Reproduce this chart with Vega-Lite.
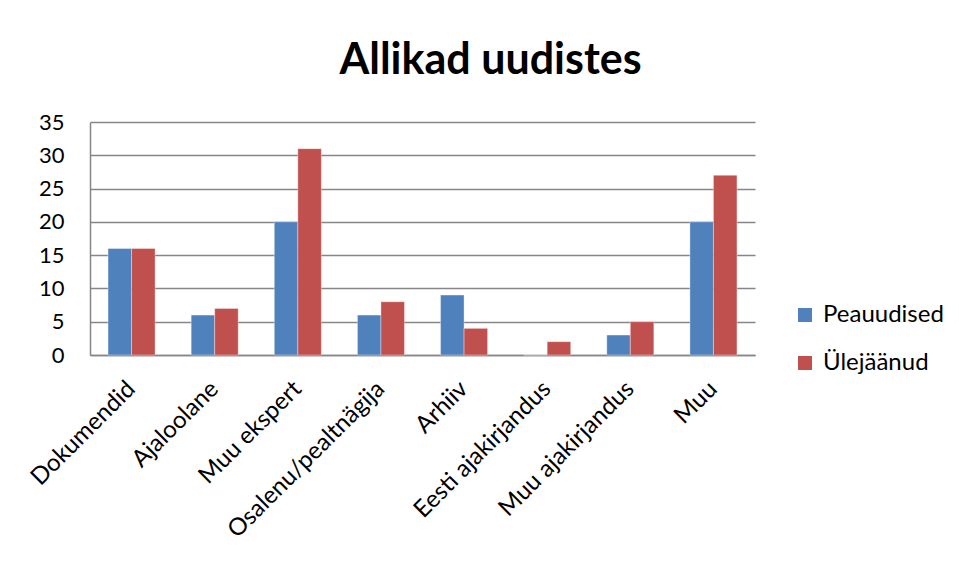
{
  "$schema": "https://vega.github.io/schema/vega-lite/v6.json",
  "width": 665,
  "height": 233,
  "autosize": "none",
  "padding": {"left": 90, "top": 122, "right": 204, "bottom": 227},
  "background": "white",
  "title": {
    "text": "Allikad uudistes",
    "font": "Lato",
    "fontSize": 43,
    "fontWeight": "bold",
    "color": "black",
    "anchor": "middle",
    "dx": 68,
    "offset": 28
  },
  "data": {
    "values": [
      {"kategooria": "Dokumendid", "seeria": "Peauudised", "väärtus": 16},
      {"kategooria": "Dokumendid", "seeria": "Ülejäänud", "väärtus": 16},
      {"kategooria": "Ajaloolane", "seeria": "Peauudised", "väärtus": 6},
      {"kategooria": "Ajaloolane", "seeria": "Ülejäänud", "väärtus": 7},
      {"kategooria": "Muu ekspert", "seeria": "Peauudised", "väärtus": 20},
      {"kategooria": "Muu ekspert", "seeria": "Ülejäänud", "väärtus": 31},
      {"kategooria": "Osalenu/pealtnägija", "seeria": "Peauudised", "väärtus": 6},
      {"kategooria": "Osalenu/pealtnägija", "seeria": "Ülejäänud", "väärtus": 8},
      {"kategooria": "Arhiiv", "seeria": "Peauudised", "väärtus": 9},
      {"kategooria": "Arhiiv", "seeria": "Ülejäänud", "väärtus": 4},
      {"kategooria": "Eesti ajakirjandus", "seeria": "Peauudised", "väärtus": 0},
      {"kategooria": "Eesti ajakirjandus", "seeria": "Ülejäänud", "väärtus": 2},
      {"kategooria": "Muu ajakirjandus", "seeria": "Peauudised", "väärtus": 3},
      {"kategooria": "Muu ajakirjandus", "seeria": "Ülejäänud", "väärtus": 5},
      {"kategooria": "Muu", "seeria": "Peauudised", "väärtus": 20},
      {"kategooria": "Muu", "seeria": "Ülejäänud", "väärtus": 27}
    ]
  },
  "mark": {"type": "bar", "stroke": "white", "strokeWidth": 0.6, "strokeOpacity": 0.6},
  "encoding": {
    "x": {
      "field": "kategooria",
      "type": "nominal",
      "sort": null,
      "scale": {"paddingInner": 0.434, "paddingOuter": 0.217},
      "axis": {
        "title": null,
        "labelAngle": -45,
        "labelAlign": "right",
        "labelBaseline": "middle",
        "labelFont": "Lato",
        "labelFontSize": 24,
        "labelColor": "black",
        "labelPadding": 30,
        "ticks": false,
        "domainColor": "#868686",
        "domainWidth": 1.5,
        "labelOverlap": false,
        "labelLimit": 400
      }
    },
    "xOffset": {"field": "seeria", "type": "nominal", "sort": ["Peauudised", "Ülejäänud"]},
    "y": {
      "field": "väärtus",
      "type": "quantitative",
      "scale": {"domain": [0, 35], "nice": false},
      "axis": {
        "title": null,
        "values": [0, 5, 10, 15, 20, 25, 30, 35],
        "labelFont": "Lato",
        "labelFontSize": 22,
        "labelColor": "black",
        "labelPadding": 26,
        "ticks": false,
        "domainColor": "#868686",
        "domainWidth": 1.5,
        "gridColor": "#868686",
        "gridWidth": 1.3
      }
    },
    "color": {
      "field": "seeria",
      "type": "nominal",
      "scale": {"domain": ["Peauudised", "Ülejäänud"], "range": ["#4F81BD", "#C0504D"]},
      "legend": {
        "title": null,
        "orient": "none",
        "legendX": 703,
        "legendY": 181,
        "symbolType": "square",
        "symbolSize": 196,
        "symbolStrokeWidth": 0,
        "labelFont": "Lato",
        "labelFontSize": 24,
        "labelColor": "black",
        "labelOffset": 6,
        "rowPadding": 24
      }
    }
  },
  "config": {
    "view": {"stroke": null}
  }
}
